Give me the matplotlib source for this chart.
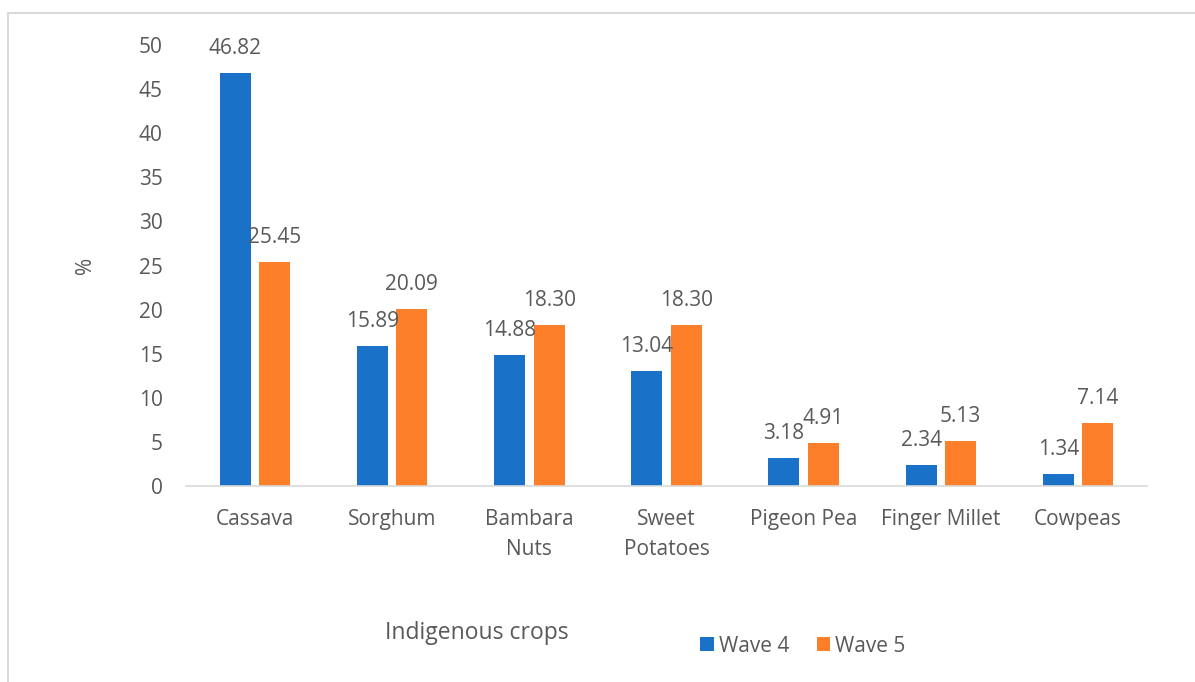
import numpy as np
import matplotlib.pyplot as plt
from matplotlib.patches import Rectangle

plt.rcParams['font.family'] = ['Open Sans', 'DejaVu Sans']

crops = ["Cassava", "Sorghum", "Bambara\nNuts", "Sweet\nPotatoes",
         "Pigeon Pea", "Finger Millet", "Cowpeas"]
wave4 = [46.82, 15.89, 14.88, 13.04, 3.18, 2.34, 1.34]
wave5 = [25.45, 20.09, 18.30, 18.30, 4.91, 5.13, 7.14]
series_names = ["Wave 4", "Wave 5"]

blue = "#1a72c8"
orange = "#fe7f2a"
txt = "#595959"

W, H = 1195, 682
fig = plt.figure(figsize=(W / 100, H / 100), dpi=100)
ax = fig.add_axes([186.4 / W, 196 / H, (1146.6 - 186.4) / W, (637 - 196) / H])

x = np.arange(len(crops))
bw = 0.226
off = 0.144
b4 = ax.bar(x - off, wave4, bw, color=blue, label=series_names[0])
b5 = ax.bar(x + off, wave5, bw, color=orange, label=series_names[1])

for bars, vals in [(b4, wave4), (b5, wave5)]:
    for rect, v in zip(bars, vals):
        ax.annotate(f"{v:.2f}", (rect.get_x() + rect.get_width() / 2, v),
                    xytext=(0, 10), textcoords="offset points",
                    ha="center", va="bottom", fontsize=15, color=txt)

ax.set_xlim(-0.5, len(crops) - 0.5)
ax.set_ylim(0, 50)
ax.set_yticks(range(0, 51, 5))
ax.set_xticks(x)
ax.set_xticklabels(crops, linespacing=1.55)
ax.tick_params(axis="y", length=0, pad=17, labelsize=15, labelcolor=txt)
ax.tick_params(axis="x", length=0, pad=16.5, labelsize=15, labelcolor=txt)

for s in ["top", "right", "left"]:
    ax.spines[s].set_visible(False)
ax.spines["bottom"].set_color("#d9d9d9")
ax.spines["bottom"].set_linewidth(1.2)

fig.text(85 / W, 1 - 265 / H, "%", rotation=90, ha="center", va="center",
         fontsize=15, color=txt)
fig.text(477 / W, 1 - 633 / H, "Indigenous crops", ha="center", va="center",
         fontsize=16.5, color=txt)

leg = fig.legend(loc="center", bbox_to_anchor=(803 / W, 1 - 646 / H), ncol=2,
                 frameon=False, fontsize=15, handlelength=0.65, handleheight=0.65,
                 handletextpad=0.25, columnspacing=1.3)
for t in leg.get_texts():
    t.set_color(txt)

# chart border (only left/top visible in the crop)
fig.patches.append(Rectangle((8 / W, -0.05), 1.2, 1 - 13 / H + 0.05,
                             transform=fig.transFigure, fill=False,
                             edgecolor="#d9d9d9", linewidth=1.5))

fig.savefig("out.png", dpi=100)
